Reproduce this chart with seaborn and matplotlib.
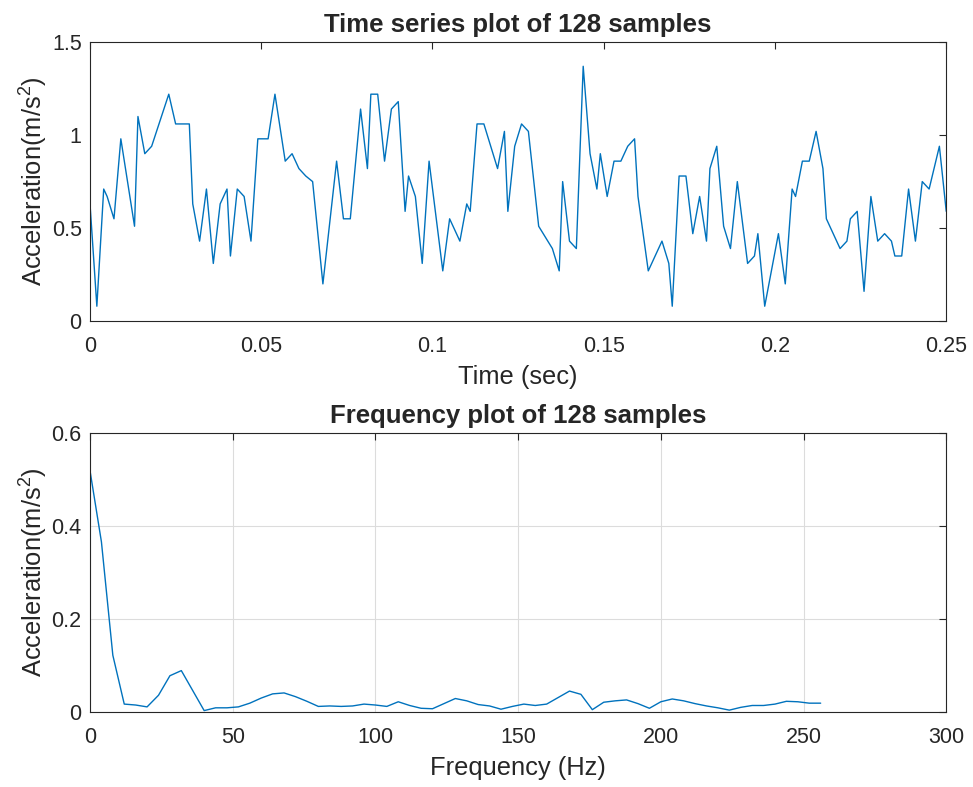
import matplotlib
matplotlib.use("Agg")
import matplotlib.pyplot as plt
import seaborn as sns
import pandas as pd

# ==========================
# Data
# ==========================

# time stamps (ms) of the visible vertices and acceleration (m/s^2)
time_ms = [0, 2, 4, 5, 7, 9, 13, 14, 16, 18, 23, 25, 29, 30, 32, 34, 36, 38, 40, 41,
           43, 45, 47, 49, 52, 54, 57, 59, 61, 63, 65, 68, 72, 74, 76, 79, 81, 82, 84, 86,
           88, 90, 92, 93, 95, 97, 99, 103, 105, 108, 110, 111, 113, 115, 119, 121, 122, 124, 126, 128,
           131, 133, 135, 137, 138, 140, 142, 144, 146, 148, 149, 151, 153, 155, 157, 159, 160, 163, 167, 169,
           170, 172, 174, 176, 178, 180, 181, 183, 185, 187, 189, 192, 194, 195, 197, 201, 203, 205, 206, 208,
           210, 212, 214, 215, 219, 221, 222, 224, 226, 228, 230, 232, 234, 235, 237, 239, 241, 243, 245, 248,
           250]
accel = [0.63, 0.08, 0.71, 0.67, 0.55, 0.98, 0.51, 1.10, 0.90, 0.94, 1.22, 1.06, 1.06, 0.63, 0.43, 0.71, 0.31, 0.63, 0.71, 0.35,
         0.71, 0.67, 0.43, 0.98, 0.98, 1.22, 0.86, 0.90, 0.82, 0.78, 0.75, 0.20, 0.86, 0.55, 0.55, 1.14, 0.82, 1.22, 1.22, 0.86,
         1.14, 1.18, 0.59, 0.78, 0.67, 0.31, 0.86, 0.27, 0.55, 0.43, 0.63, 0.59, 1.06, 1.06, 0.82, 1.02, 0.59, 0.94, 1.06, 1.02,
         0.51, 0.45, 0.39, 0.27, 0.75, 0.43, 0.39, 1.37, 0.90, 0.71, 0.90, 0.67, 0.86, 0.86, 0.94, 0.98, 0.67, 0.27, 0.43, 0.31,
         0.08, 0.78, 0.78, 0.47, 0.67, 0.43, 0.82, 0.94, 0.51, 0.39, 0.75, 0.31, 0.35, 0.47, 0.08, 0.47, 0.20, 0.71, 0.67, 0.86,
         0.86, 1.02, 0.82, 0.55, 0.39, 0.43, 0.55, 0.59, 0.16, 0.67, 0.43, 0.47, 0.43, 0.35, 0.35, 0.71, 0.43, 0.75, 0.71, 0.94,
         0.59]

# single sided spectrum, 4 Hz bins
freq_hz = list(range(0, 257, 4))
amp = [0.519, 0.366, 0.122, 0.017, 0.015, 0.011, 0.036, 0.078, 0.089, 0.046,
       0.003, 0.009, 0.009, 0.011, 0.019, 0.030, 0.039, 0.041, 0.033, 0.023,
       0.012, 0.013, 0.012, 0.013, 0.017, 0.015, 0.012, 0.022, 0.014, 0.008,
       0.007, 0.018, 0.029, 0.024, 0.016, 0.013, 0.006, 0.012, 0.017, 0.014,
       0.017, 0.031, 0.045, 0.038, 0.005, 0.021, 0.024, 0.026, 0.018, 0.008,
       0.022, 0.028, 0.024, 0.018, 0.013, 0.009, 0.004, 0.010, 0.014, 0.014,
       0.017, 0.023, 0.022, 0.019, 0.019]

time_ticks = [0, 0.05, 0.1, 0.15, 0.2, 0.25]
time_labels = ["0", "0.05", "0.1", "0.15", "0.2", "0.25"]
acc_ticks = [0, 0.5, 1, 1.5]
acc_labels = ["0", "0.5", "1", "1.5"]
freq_ticks = [0, 50, 100, 150, 200, 250, 300]
freq_labels = ["0", "50", "100", "150", "200", "250", "300"]
amp_ticks = [0, 0.2, 0.4, 0.6]
amp_labels = ["0", "0.2", "0.4", "0.6"]

df_time = pd.DataFrame({"t": [v / 1000 for v in time_ms], "acc": accel})
df_freq = pd.DataFrame({"f": freq_hz, "amp": amp})

# ==========================
# Style
# ==========================

sns.set_style("white")
plt.rcParams["font.family"] = ["Liberation Sans", "DejaVu Sans"]
plt.rcParams["mathtext.fontset"] = "custom"
plt.rcParams["mathtext.rm"] = "Liberation Sans"
plt.rcParams["mathtext.it"] = "Liberation Sans"
plt.rcParams["mathtext.default"] = "regular"

LINE = "#0072BD"
AX = "#262626"
LABEL_SIZE = 18.4
TITLE_SIZE = 18.5

fig = plt.figure(figsize=(9.73, 7.87), dpi=100)
ax1 = fig.add_axes([0.0925, 0.592, 0.880, 0.3545])
ax2 = fig.add_axes([0.0925, 0.0953, 0.880, 0.3545])


def style_axes(ax):
    for s in ax.spines.values():
        s.set_color(AX)
        s.set_linewidth(0.8)
    ax.tick_params(direction="in", top=True, right=True, length=5, width=0.8,
                   colors=AX, labelsize=15.5)
    ax.tick_params(axis="x", pad=10.5)
    ax.tick_params(axis="y", pad=6)


# ==========================
# Time series
# ==========================

sns.lineplot(data=df_time, x="t", y="acc", ax=ax1, color=LINE, linewidth=1.0, estimator=None)
ax1.set_xlim(0, 0.25)
ax1.set_ylim(0, 1.5)
ax1.set_xticks(time_ticks, time_labels)
ax1.set_yticks(acc_ticks, acc_labels)
ax1.set_xlabel("Time (sec)", fontsize=LABEL_SIZE, color=AX, labelpad=6)
ax1.set_ylabel(r"Acceleration(m/s$^2$)", fontsize=LABEL_SIZE, color=AX, labelpad=1)
ax1.set_title("Time series plot of 128 samples", fontsize=TITLE_SIZE, fontweight="bold", pad=7)
style_axes(ax1)

# ==========================
# Frequency
# ==========================

sns.lineplot(data=df_freq, x="f", y="amp", ax=ax2, color=LINE, linewidth=1.0, estimator=None)
ax2.set_xlim(0, 300)
ax2.set_ylim(0, 0.6)
ax2.set_xticks(freq_ticks, freq_labels)
ax2.set_yticks(amp_ticks, amp_labels)
ax2.grid(True, color="#dcdcdc", linewidth=0.8)
ax2.set_axisbelow(True)
ax2.set_xlabel("Frequency (Hz)", fontsize=LABEL_SIZE, color=AX, labelpad=6)
ax2.set_ylabel(r"Acceleration(m/s$^2$)", fontsize=LABEL_SIZE, color=AX, labelpad=1)
ax2.set_title("Frequency plot of 128 samples", fontsize=TITLE_SIZE, fontweight="bold", pad=7)
style_axes(ax2)

plt.savefig("out.png", dpi=100)
